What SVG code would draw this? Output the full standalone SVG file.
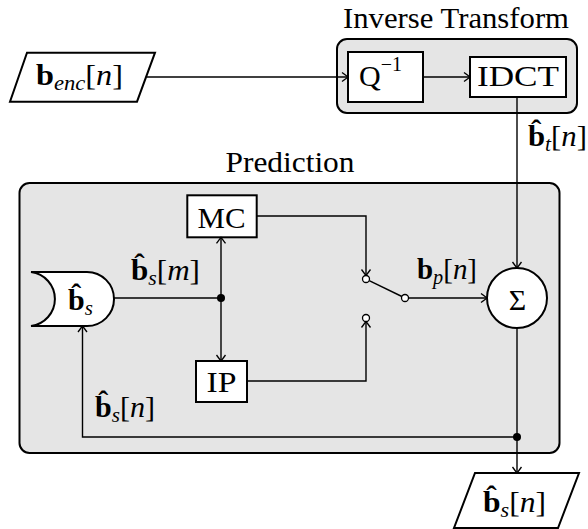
<svg xmlns="http://www.w3.org/2000/svg" width="588" height="529" viewBox="0 0 588 529">
<style>
  .grp { fill: #e5e5e5; stroke: #000; stroke-width: 2; }
  .box { fill: #fff; stroke: #000; stroke-width: 2; }
  .ln { fill: none; stroke: #000; stroke-width: 1.4; }
  .t { font-family: "Liberation Serif", "DejaVu Serif", serif; font-size: 30px; fill: #000; }
  .c { text-anchor: middle; }
  .b { font-weight: bold; }
  .i { font-style: italic; }
  .sub { font-style: italic; font-size: 21px; }
  .dot { fill: #000; }
  .ct { fill: #fff; stroke: #000; stroke-width: 1.3; }
</style>
<defs>
  <marker id="arr" markerUnits="userSpaceOnUse" markerWidth="12" markerHeight="12" refX="0" refY="0" viewBox="-7 -6 8 12" orient="auto" overflow="visible">
    <path d="M-6,-4.5 Q-1.5,-1.2 0,0 Q-1.5,1.2 -6,4.5" fill="none" stroke="#000" stroke-width="1.3"/>
  </marker>
</defs>

<g id="inverse-transform">
  <rect class="grp" x="337" y="39" width="240" height="74" rx="10"/>
  <text class="t c" x="456" y="28" textLength="226" lengthAdjust="spacingAndGlyphs">Inverse Transform</text>
</g>
<g id="prediction">
  <rect class="grp" x="19.5" y="183" width="540" height="270" rx="10"/>
  <text class="t c" x="290" y="172" textLength="129" lengthAdjust="spacingAndGlyphs">Prediction</text>
</g>

<g id="input">
  <polygon class="box" points="27,52.7 155,52.7 137,101.7 10,101.7"/>
  <text class="t" x="36" y="85" textLength="87" lengthAdjust="spacingAndGlyphs"><tspan class="b">b</tspan><tspan class="sub" dy="5">enc</tspan><tspan dy="-5">[</tspan><tspan class="i">n</tspan>]</text>
</g>
<g id="qinv">
  <rect class="box" x="348" y="52" width="75" height="50"/>
  <text class="t" x="359" y="86">Q<tspan font-size="20" dy="-15">−1</tspan></text>
</g>
<g id="idct">
  <rect class="box" x="470" y="57" width="96" height="40"/>
  <text class="t c" x="518" y="86" textLength="82" lengthAdjust="spacingAndGlyphs">IDCT</text>
</g>
<g id="mc">
  <rect class="box" x="187.3" y="195.3" width="69.4" height="42"/>
  <text class="t c" x="221.5" y="227.5" textLength="48" lengthAdjust="spacingAndGlyphs">MC</text>
</g>
<g id="ip">
  <rect class="box" x="196" y="361" width="51" height="41"/>
  <text class="t c" x="221.5" y="392" textLength="30" lengthAdjust="spacingAndGlyphs">IP</text>
</g>
<g id="store">
  <path class="box" d="M31,272 L87,272 A27,27 0 0 1 87,326 L31,326 A27.2,27.2 0 0 0 31,272 Z"/>
  <text class="t" x="68" y="310"><tspan class="b">b̂</tspan><tspan class="sub" dy="5">s</tspan></text>
</g>
<g id="sum">
  <circle class="box" cx="517" cy="298" r="30"/>
  <text class="t c" x="517.5" y="310">Σ</text>
</g>
<g id="output">
  <polygon class="box" points="475,473 579,473 558,528 454,528"/>
  <text class="t" x="483" y="512" textLength="63" lengthAdjust="spacingAndGlyphs"><tspan class="b">b̂</tspan><tspan class="sub" dy="5">s</tspan><tspan dy="-5">[</tspan><tspan class="i">n</tspan>]</text>
</g>

<g id="connectors">
  <path class="ln" d="M147,77 H348" marker-end="url(#arr)"/>
  <path class="ln" d="M423,77 H470" marker-end="url(#arr)"/>
  <path class="ln" d="M517,97 V268" marker-end="url(#arr)"/>
  <path class="ln" d="M114,298 H221"/>
  <path class="ln" d="M221,298 V237.3" marker-end="url(#arr)"/>
  <path class="ln" d="M221,298 V361" marker-end="url(#arr)"/>
  <path class="ln" d="M256.7,216 H366 V275.5" marker-end="url(#arr)"/>
  <path class="ln" d="M247,381 H366 V321.5" marker-end="url(#arr)"/>
  <path class="ln" d="M401.9,296.5 L369.2,280.6"/>
  <path class="ln" d="M408.5,298 H487" marker-end="url(#arr)"/>
  <path class="ln" d="M517,328 V473" marker-end="url(#arr)"/>
  <path class="ln" d="M517,437 H82.5 V326" marker-end="url(#arr)"/>
  <circle class="dot" cx="221" cy="298" r="4"/>
  <circle class="dot" cx="517" cy="437" r="4"/>
  <circle class="ct" cx="366" cy="279" r="3.5"/>
  <circle class="ct" cx="366" cy="318" r="3.5"/>
  <circle class="ct" cx="405" cy="298" r="3.5"/>
  <text class="t" x="131" y="280" textLength="69" lengthAdjust="spacingAndGlyphs"><tspan class="b">b̂</tspan><tspan class="sub" dy="5">s</tspan><tspan dy="-5">[</tspan><tspan class="i">m</tspan>]</text>
  <text class="t" x="417" y="279" textLength="60" lengthAdjust="spacingAndGlyphs"><tspan class="b">b</tspan><tspan class="sub" dy="5">p</tspan><tspan dy="-5">[</tspan><tspan class="i">n</tspan>]</text>
  <text class="t" x="528" y="146" textLength="59" lengthAdjust="spacingAndGlyphs"><tspan class="b">b̂</tspan><tspan class="sub" dy="5">t</tspan><tspan dy="-5">[</tspan><tspan class="i">n</tspan>]</text>
  <text class="t" x="95" y="417" textLength="60" lengthAdjust="spacingAndGlyphs"><tspan class="b">b̂</tspan><tspan class="sub" dy="5">s</tspan><tspan dy="-5">[</tspan><tspan class="i">n</tspan>]</text>
</g>
</svg>
